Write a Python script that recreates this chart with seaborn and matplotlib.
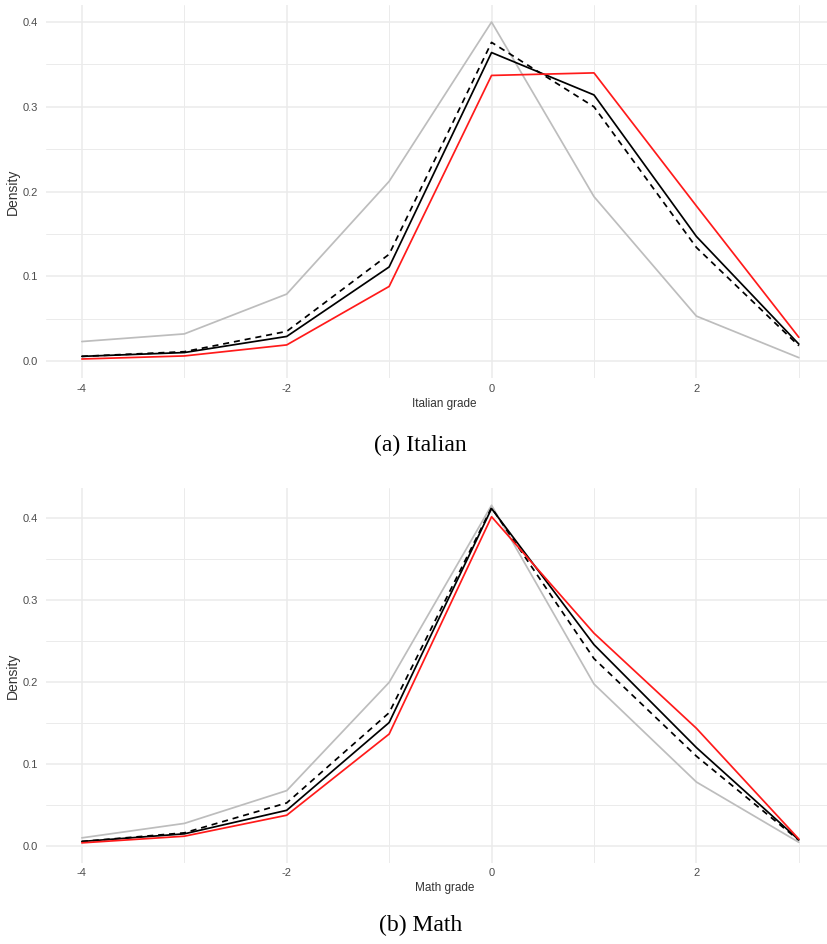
import matplotlib
matplotlib.use("Agg")
import matplotlib.pyplot as plt
from matplotlib.ticker import MultipleLocator
import seaborn as sns
import pandas as pd

# grades (standardised) on the x axis
grades = [-4, -3, -2, -1, 0, 1, 2, 3]

# Italian panel: densities
ita_grey = [0.023, 0.032, 0.079, 0.212, 0.400, 0.194, 0.053, 0.004]
ita_dashed = [0.0055, 0.011, 0.035, 0.126, 0.376, 0.300, 0.134, 0.018]
ita_black = [0.0055, 0.010, 0.029, 0.111, 0.364, 0.314, 0.147, 0.020]
ita_red = [0.0024, 0.006, 0.019, 0.088, 0.337, 0.340, 0.183, 0.028]

# Math panel
mat_grey = [0.0094, 0.027, 0.067, 0.199, 0.415, 0.197, 0.0775, 0.004]
mat_dashed = [0.005, 0.0155, 0.052, 0.162, 0.412, 0.228, 0.109, 0.0065]
mat_black = [0.005, 0.0143, 0.043, 0.150, 0.411, 0.245, 0.1195, 0.007]
mat_red = [0.0033, 0.0114, 0.037, 0.136, 0.401, 0.259, 0.143, 0.008]

sns.set_theme(style="white")
plt.rcParams["font.family"] = ["Liberation Sans", "DejaVu Sans"]

fig = plt.figure(figsize=(8.27, 9.44), dpi=100)

styles = [("grey", "#bdbdbd", "-"), ("dashed", "black", (0, (3.5, 2.8))),
          ("black", "black", "-"), ("red", "#ff1a1a", "-")]


def draw_panel(ax, series, xlabel, ylim):
    for (name, col, ls), vals in zip(styles, series):
        d = pd.DataFrame({"grade": grades, "density": vals})
        sns.lineplot(data=d, x="grade", y="density", ax=ax, color=col,
                     linestyle=ls, linewidth=1.25, zorder=3)
    ax.set_xlim(-4.35, 3.275)
    ax.set_ylim(*ylim)
    ax.xaxis.set_minor_locator(MultipleLocator(1))
    ax.yaxis.set_minor_locator(MultipleLocator(0.05))
    ax.set_yticks([0.0, 0.1, 0.2, 0.3, 0.4])
    ax.set_yticklabels(["0.0", "0.1", "0.2", "0.3", "0.4"])
    ax.set_xticks([-4, -2, 0, 2])
    ax.set_xticklabels(["-4", "-2", "0", "2"])
    ax.grid(which="major", color="#ebebeb", linewidth=1.1, zorder=0)
    ax.grid(which="minor", color="#ebebeb", linewidth=0.7, zorder=0)
    ax.tick_params(which="both", length=0, labelsize=8, labelcolor="#4d4d4d")
    ax.tick_params(axis="y", pad=6)
    ax.tick_params(axis="x", pad=4)
    for s in ax.spines.values():
        s.set_visible(False)
    ax.set_xlabel(xlabel, fontsize=8.5, color="#333333")
    ax.set_ylabel("Density", fontsize=10, color="#333333")
    ax.yaxis.set_label_coords((20 - 46) / 781, 0.5)
    ax.set_facecolor("white")


ax1 = fig.add_axes([46 / 827, 0.5996, 1 - 46 / 827, 0.395])
draw_panel(ax1, [ita_grey, ita_dashed, ita_black, ita_red], "Italian grade", (-0.02, 0.42))
ax1.xaxis.set_label_coords(0.51, -20 / 373)

ax2 = fig.add_axes([46 / 827, 0.0862, 1 - 46 / 827, 0.3968])
draw_panel(ax2, [mat_grey, mat_dashed, mat_black, mat_red], "Math grade", (-0.0208, 0.436))
ax2.xaxis.set_label_coords(0.51, -19.5 / 374.6)

fig.text(420 / 827, 1 - 445 / 944, "(a) Italian", ha="center", va="center",
         fontsize=17, family=["Liberation Serif", "DejaVu Serif"], color="black")
fig.text(421 / 827, 1 - 925 / 944, "(b) Math", ha="center", va="center",
         fontsize=17, family=["Liberation Serif", "DejaVu Serif"], color="black")

fig.savefig("out.png", dpi=100, facecolor="white")
